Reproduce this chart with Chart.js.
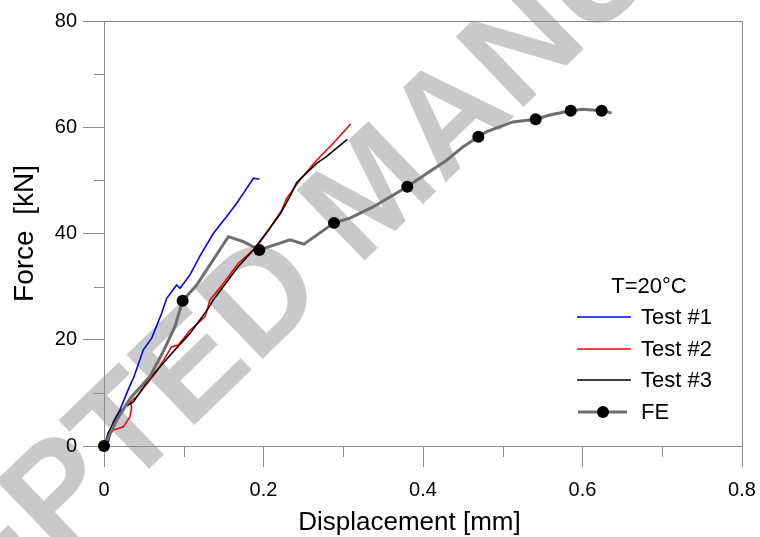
<!DOCTYPE html>
<html>
<head>
<meta charset="utf-8">
<script src="https://cdn.jsdelivr.net/npm/chart.js@4.4.1/dist/chart.umd.min.js"></script>
<style>
  html, body { margin: 0; padding: 0; background: #fff; }
  #wrap { width: 760px; height: 537px; }
</style>
</head>
<body>
<div id="wrap"><canvas id="forceChart" width="760" height="537"></canvas></div>
<script>
// tick labels
const xTickLabels = ['0', '0.2', '0.4', '0.6', '0.8'];
const yTickLabels = ['0', '20', '40', '60', '80'];

// Test #1 (blue)
const t1X = [0, 0.0054, 0.0117, 0.02, 0.0284, 0.0347, 0.0368, 0.0493, 0.0598, 0.0723, 0.0786, 0.0911, 0.0953, 0.1078, 0.1204, 0.137, 0.1538, 0.1664, 0.1789, 0.1873, 0.1948];
const t1Y = [0, 0.8, 4.5, 6.8, 9.9, 12.1, 12.7, 18.1, 20.3, 25.0, 27.8, 30.3, 29.7, 32.2, 35.8, 40.0, 43.2, 45.7, 48.5, 50.4, 50.2];

// Test #2 (red)
const t2X = [0, 0.0054, 0.0117, 0.0242, 0.0326, 0.0347, 0.0326, 0.041, 0.066, 0.0849, 0.0932, 0.1078, 0.1266, 0.1329, 0.1496, 0.1684, 0.1915, 0.2082, 0.2228, 0.2291, 0.2458, 0.2667, 0.2875, 0.3093];
const t2Y = [0, 1.8, 3.0, 3.6, 5.5, 7.4, 8.3, 9.3, 14.0, 18.7, 19.0, 21.8, 24.3, 27.5, 30.6, 34.4, 37.5, 41.0, 44.4, 46.6, 50.1, 53.8, 57.0, 60.6];

// Test #3 (black)
const t3X = [0, 0.0054, 0.018, 0.0263, 0.0368, 0.0555, 0.089, 0.1078, 0.1308, 0.137, 0.1684, 0.1873, 0.2207, 0.2332, 0.2416, 0.2667, 0.2792, 0.3051];
const t3Y = [0, 2.5, 6.1, 7.4, 8.3, 12.4, 18.1, 21.2, 25.9, 27.5, 33.8, 36.9, 43.6, 47.0, 49.6, 53.2, 54.5, 57.7];

// FE (gray line, black dots where feMarker = 1)
const feX = [0, 0.016, 0.033, 0.058, 0.075, 0.089, 0.0986, 0.1162, 0.1559, 0.1743, 0.1948, 0.2332, 0.2508, 0.2884, 0.3085, 0.3373, 0.3803, 0.4046, 0.4297, 0.450, 0.4694, 0.48, 0.513, 0.5413, 0.559, 0.5852, 0.6006, 0.624, 0.6365];
const feY = [0, 4.9, 9.0, 13.2, 18.0, 22.5, 27.35, 30.3, 39.4, 38.5, 36.9, 38.8, 38.0, 42.0, 42.9, 45.0, 48.8, 51.3, 53.8, 56.3, 58.2, 59.2, 61.0, 61.5, 62.3, 63.1, 63.4, 63.1, 62.7];
const feMarker = [1, 0, 0, 0, 0, 0, 1, 0, 0, 0, 1, 0, 0, 1, 0, 0, 1, 0, 0, 0, 1, 0, 0, 1, 0, 1, 0, 1, 0];

const legendTitle = 'T=20°C';
const xTitle = 'Displacement [mm]';

function pts(xs, ys) {
  return xs.map((x, i) => ({ x: x, y: ys[i] }));
}

const axisGray = '#8a8a8a';
const fontFamily = '"Liberation Sans", Arial, sans-serif';

// watermark behind everything
const watermark = {
  id: 'watermark',
  beforeDraw(chart) {
    const ctx = chart.ctx;
    ctx.save();
    ctx.translate(376, 195);
    ctx.rotate(-44 * Math.PI / 180);
    ctx.font = 'bold 142px ' + fontFamily;
    ctx.fillStyle = '#c8c9cb';
    ctx.textAlign = 'center';
    ctx.textBaseline = 'middle';
    ctx.fillText('ACCEPTED MANUSCRIPT', 0, 0);
    ctx.restore();
  }
};

// top/right frame, minor ticks and x title (sits a bit left of centre)
const frame = {
  id: 'frame',
  afterDraw(chart) {
    const ctx = chart.ctx;
    const a = chart.chartArea;
    const xs = chart.scales.x, ys = chart.scales.y;
    ctx.save();
    ctx.strokeStyle = axisGray;
    ctx.lineWidth = 1;
    ctx.beginPath();
    ctx.moveTo(Math.round(a.left), Math.round(a.top) + 0.5);
    ctx.lineTo(Math.round(a.right) + 0.5, Math.round(a.top) + 0.5);
    ctx.lineTo(Math.round(a.right) + 0.5, Math.round(a.bottom));
    // minor ticks halfway between the major ones
    for (let i = 0; i < xs.ticks.length - 1; i++) {
      const px = Math.round(xs.getPixelForValue((xs.ticks[i].value + xs.ticks[i + 1].value) / 2)) + 0.5;
      ctx.moveTo(px, a.bottom);
      ctx.lineTo(px, a.bottom + 11);
    }
    for (let i = 0; i < ys.ticks.length - 1; i++) {
      const py = Math.round(ys.getPixelForValue((ys.ticks[i].value + ys.ticks[i + 1].value) / 2)) + 0.5;
      ctx.moveTo(a.left - 10, py);
      ctx.lineTo(a.left, py);
    }
    ctx.stroke();

    ctx.font = '26px ' + fontFamily;
    ctx.fillStyle = '#000';
    ctx.textAlign = 'center';
    ctx.textBaseline = 'alphabetic';
    ctx.fillText(xTitle, xs.getPixelForValue(0.383), 530);
    ctx.restore();
  }
};

// legend inside the plot
const insideLegend = {
  id: 'insideLegend',
  afterDraw(chart) {
    const ctx = chart.ctx;
    ctx.save();
    ctx.font = '22px ' + fontFamily;
    ctx.fillStyle = '#000';
    ctx.textBaseline = 'middle';
    ctx.textAlign = 'center';
    ctx.fillText(legendTitle, 649, 287);
    ctx.textAlign = 'left';
    const rows = [317, 349, 380, 412];
    chart.data.datasets.forEach((ds, i) => {
      const y = rows[i];
      const isFE = ds.label === 'FE';
      ctx.strokeStyle = ds.borderColor;
      ctx.lineWidth = ds.borderWidth;
      ctx.beginPath();
      ctx.moveTo(isFE ? 578 : 577, y);
      ctx.lineTo(isFE ? 627 : 631, y);
      ctx.stroke();
      if (isFE) {
        ctx.fillStyle = '#000';
        ctx.beginPath();
        ctx.arc(603, y, 6, 0, Math.PI * 2);
        ctx.fill();
      }
      ctx.fillStyle = '#000';
      ctx.fillText(ds.label, 641, y + 1);
    });
    ctx.restore();
  }
};

const tickFont = { family: fontFamily, size: 20 };

new Chart(document.getElementById('forceChart'), {
  type: 'line',
  data: {
    datasets: [{
      label: 'Test #1',
      data: pts(t1X, t1Y),
      borderColor: '#0000ff',
      borderWidth: 1.6,
      pointRadius: 0,
      order: 3
    }, {
      label: 'Test #2',
      data: pts(t2X, t2Y),
      borderColor: '#ff0000',
      borderWidth: 1.6,
      pointRadius: 0,
      order: 2
    }, {
      label: 'Test #3',
      data: pts(t3X, t3Y),
      borderColor: '#000000',
      borderWidth: 1.6,
      pointRadius: 0,
      order: 1
    }, {
      label: 'FE',
      data: pts(feX, feY),
      borderColor: '#6e6e6e',
      borderWidth: 3,
      pointRadius: ctx => feMarker[ctx.dataIndex] ? 6 : 0,
      pointBackgroundColor: '#000',
      pointBorderColor: '#000',
      pointBorderWidth: 0,
      order: 0
    }]
  },
  options: {
    responsive: false,
    animation: false,
    devicePixelRatio: 1,
    clip: false,
    layout: { padding: { top: 21, right: 18, left: 0, bottom: 0 } },
    elements: { line: { tension: 0, fill: false } },
    plugins: {
      legend: { display: false },
      tooltip: { enabled: false }
    },
    scales: {
      x: {
        type: 'linear',
        min: 0,
        max: 0.8,
        ticks: {
          stepSize: 0.2,
          color: '#000',
          font: tickFont,
          padding: 11,
          maxRotation: 0,
          callback: (v, i) => xTickLabels[i]
        },
        grid: { drawOnChartArea: false, tickLength: 21, color: axisGray },
        border: { color: axisGray },
        afterFit: s => { s.height = 91; s.paddingLeft = 0; s.paddingRight = 0; }
      },
      y: {
        min: 0,
        max: 80,
        ticks: {
          stepSize: 20,
          color: '#000',
          font: tickFont,
          padding: 6,
          callback: (v, i) => yTickLabels[i]
        },
        grid: { drawOnChartArea: false, tickLength: 21, color: axisGray },
        border: { color: axisGray },
        title: { display: true, text: 'Force  [kN]', color: '#000', font: { family: fontFamily, size: 28 }, padding: { top: 8, bottom: 0 } },
        afterFit: s => { s.width = 104; s.paddingTop = 0; s.paddingBottom = 0; }
      }
    }
  },
  plugins: [watermark, frame, insideLegend]
});
</script>
</body>
</html>
